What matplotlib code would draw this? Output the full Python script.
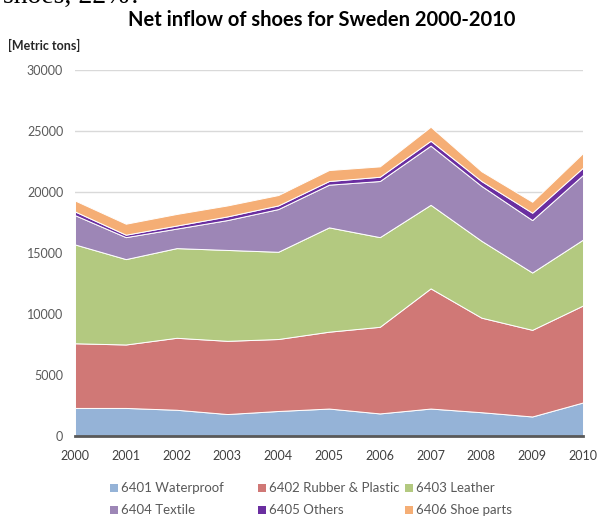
import matplotlib
matplotlib.use("Agg")
import matplotlib.pyplot as plt
from matplotlib.patches import Rectangle

years = [2000, 2001, 2002, 2003, 2004, 2005, 2006, 2007, 2008, 2009, 2010]
waterproof = [2300, 2300, 2150, 1800, 2050, 2250, 1850, 2250, 1950, 1600, 2750]
rubber = [5300, 5200, 5900, 6000, 5900, 6300, 7100, 9850, 7750, 7100, 7950]
leather = [8100, 7000, 7350, 7450, 7150, 8550, 7350, 6850, 6300, 4700, 5400]
textile = [2400, 1800, 1600, 2450, 3500, 3500, 4600, 4850, 4500, 4300, 5300]
others = [300, 200, 250, 300, 300, 300, 350, 400, 400, 600, 600]
parts = [900, 900, 950, 900, 850, 900, 850, 1150, 800, 900, 1200]

labels = ["6401 Waterproof", "6402 Rubber & Plastic", "6403 Leather",
          "6404 Textile", "6405 Others", "6406 Shoe parts"]
colors = ["#95B3D7", "#D07876", "#B3C980", "#9D86B6", "#6A2EA0", "#F5AE75"]

W, H = 597, 516
fig = plt.figure(figsize=(W/100, H/100), dpi=100)
ax = fig.add_axes([75/W, 1-436/H, (583-75)/W, (436-70)/H])

ax.stackplot(years, waterproof, rubber, leather, textile, others, parts,
             colors=colors, edgecolor="white", linewidth=0.7, zorder=2)

ax.set_xlim(2000, 2010)
ax.set_ylim(0, 30000)
ax.set_xticks(years)
ax.set_yticks(range(0, 30001, 5000))
ax.yaxis.grid(True, color="#D9D9D9", linewidth=1, zorder=0)
ax.set_axisbelow(True)
for s in ["top", "right", "left"]:
    ax.spines[s].set_visible(False)
ax.spines["bottom"].set_color("#595959")
ax.spines["bottom"].set_linewidth(2)
ax.spines["bottom"].set_zorder(5)
ax.tick_params(axis="both", length=0, labelsize=9)
ax.tick_params(axis="y", pad=8.5, labelcolor="#595959")
ax.tick_params(axis="x", pad=10, labelcolor="#404040")
for t in ax.get_xticklabels() + ax.get_yticklabels():
    t.set_family("Lato")

fig.text(322/W, 1-20/H, "Net inflow of shoes for Sweden 2000-2010",
         ha="center", va="center", fontsize=14.5, fontweight="bold",
         family="Lato")
fig.text(8/W, 1-45/H, "[Metric tons]", ha="left", va="center",
         fontsize=9, fontweight="bold", color="#262626", family="Lato")
fig.text(0.005, 1+4/H, "shoes, 22%?", ha="left", va="center",
         fontsize=20, family="Liberation Serif", color="black")

col_x = [110, 258, 405]
row_y = [488, 510]
for i, (lab, c) in enumerate(zip(labels, colors)):
    x0 = col_x[i % 3]
    y0 = row_y[i // 3]
    fig.patches.append(Rectangle((x0/W, 1-(y0+4)/H), 8/W, 8/H,
                                 transform=fig.transFigure, facecolor=c,
                                 edgecolor="none"))
    fig.text((x0+11)/W, 1-y0/H, lab, ha="left", va="center",
             fontsize=9.5, color="#595959", family="Lato")

fig.savefig("out.png", dpi=100)
